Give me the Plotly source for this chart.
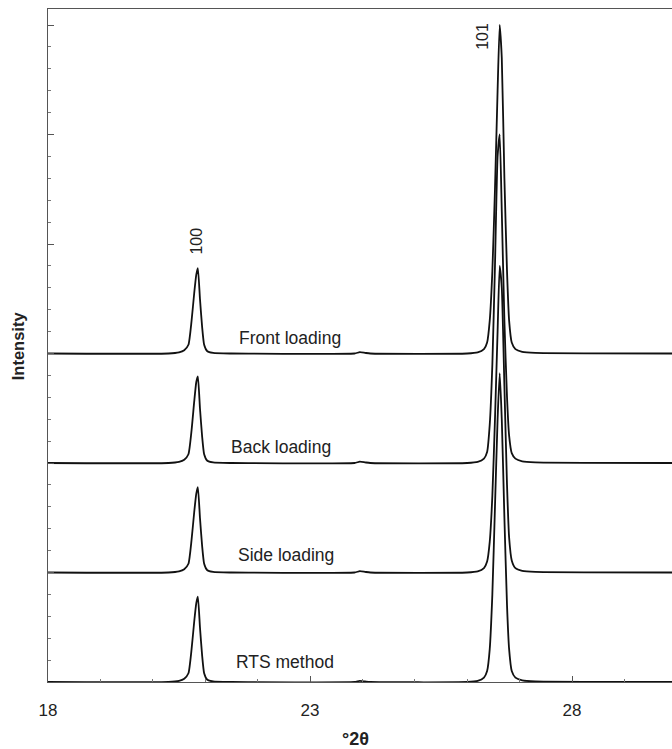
import plotly.graph_objects as go

# ---- data ----
two_theta = [18.0, 20.3, 20.5, 20.6, 20.68, 20.74, 20.79, 20.83, 20.86, 20.90, 20.94, 20.98,
             21.04, 21.15, 21.5, 23.85, 23.95, 24.05, 24.15, 26.0, 26.2, 26.32, 26.38, 26.43,
             26.48, 26.53, 26.58, 26.62, 26.66, 26.71, 26.76, 26.80, 26.85, 26.92, 27.05, 27.3, 30.0]

front = [0, 0, 0.01, 0.03, 0.08, 0.3, 0.55, 0.72, 0.78, 0.5, 0.25, 0.08, 0.02, 0.005, 0,
         0, 0.012, 0.006, 0, 0, 0.01, 0.04, 0.1, 0.3, 0.75, 1.5, 2.4, 3.0, 2.7, 1.6, 0.75, 0.3, 0.1, 0.04, 0.015, 0.005, 0]
back = [0, 0, 0.01, 0.03, 0.08, 0.3, 0.56, 0.74, 0.79, 0.5, 0.25, 0.08, 0.02, 0.005, 0,
        0, 0.012, 0.006, 0, 0, 0.01, 0.04, 0.1, 0.35, 0.9, 1.8, 2.8, 3.0, 2.3, 1.3, 0.6, 0.25, 0.09, 0.04, 0.015, 0.005, 0]
side = [0, 0, 0.01, 0.03, 0.08, 0.3, 0.55, 0.72, 0.78, 0.5, 0.25, 0.08, 0.02, 0.005, 0,
        0, 0.012, 0.006, 0, 0, 0.01, 0.04, 0.1, 0.28, 0.7, 1.4, 2.2, 2.8, 2.6, 1.7, 0.8, 0.32, 0.11, 0.04, 0.015, 0.005, 0]
rts = [0, 0, 0.01, 0.03, 0.08, 0.3, 0.55, 0.72, 0.78, 0.5, 0.25, 0.08, 0.02, 0.005, 0,
       0, 0.01, 0.005, 0, 0, 0.01, 0.04, 0.1, 0.3, 0.8, 1.6, 2.4, 2.82, 2.4, 1.5, 0.7, 0.3, 0.1, 0.04, 0.015, 0.005, 0]

series_names = ["Front loading", "Back loading", "Side loading", "RTS method"]
series_values = [front, back, side, rts]
offsets = [3, 2, 1, 0]

label_x = [22.62, 22.45, 22.54, 22.52]
label_dy = [0.14, 0.146, 0.16, 0.183]

peak_labels = ["100", "101"]
peak_label_x = [20.84, 26.30]
peak_label_y = [4.03, 5.90]

x_tick_vals = [18, 23, 28]
x_tick_text = ["18", "23", "28"]

FONT = "Liberation Sans, Arial, sans-serif"

fig = go.Figure()
for name, vals, off in zip(series_names, series_values, offsets):
    fig.add_trace(go.Scatter(
        x=two_theta, y=[v + off for v in vals], mode="lines", name=name,
        line=dict(color="#111111", width=1.8, shape="spline", smoothing=0.5),
        showlegend=False, hoverinfo="skip"))

for name, lx, dy, off in zip(series_names, label_x, label_dy, offsets):
    fig.add_annotation(x=lx, y=off + dy, text=name, showarrow=False,
                       font=dict(family=FONT, size=17.5, color="#222222"))

for t, px, py in zip(peak_labels, peak_label_x, peak_label_y):
    fig.add_annotation(x=px, y=py, text=t, showarrow=False, textangle=-90,
                       font=dict(family=FONT, size=16, color="#222222"))

# axis titles
fig.add_annotation(xref="paper", yref="paper", x=0.492, y=-0.0847, text="<b>°2θ</b>",
                   showarrow=False, yanchor="middle",
                   font=dict(family=FONT, size=18, color="#222222"))
fig.add_annotation(xref="paper", yref="paper", x=-0.048, y=0.499, text="<b>Intensity</b>",
                   showarrow=False, textangle=-90, xanchor="center",
                   font=dict(family=FONT, size=16.5, color="#222222"))

fig.update_layout(
    width=672, height=749,
    margin=dict(l=48, r=0, t=9, b=67),
    paper_bgcolor="white", plot_bgcolor="white",
    xaxis=dict(range=[18, 18 + 624 / 52.4], tickvals=x_tick_vals, ticktext=x_tick_text,
               ticks="inside", ticklen=6, tickcolor="#555", showline=True, linecolor="#555",
               linewidth=1.2, mirror=True, showgrid=False, zeroline=False,
               ticklabelstandoff=12,
               minor=dict(dtick=1, ticks="inside", ticklen=3, tickcolor="#777"),
               tickfont=dict(family=FONT, size=17, color="#222")),
    yaxis=dict(range=[0, 673 / 109.5], dtick=1, tick0=0, showticklabels=False,
               ticks="inside", ticklen=6, tickcolor="#555", showline=True, linecolor="#555",
               linewidth=1.2, mirror=False, showgrid=False, zeroline=False,
               minor=dict(dtick=0.2, ticks="inside", ticklen=3, tickcolor="#777")),
)

fig.write_html("out.html", config={"displayModeBar": False},
               post_script="document.body.style.margin='0';document.body.style.overflow='hidden';")
